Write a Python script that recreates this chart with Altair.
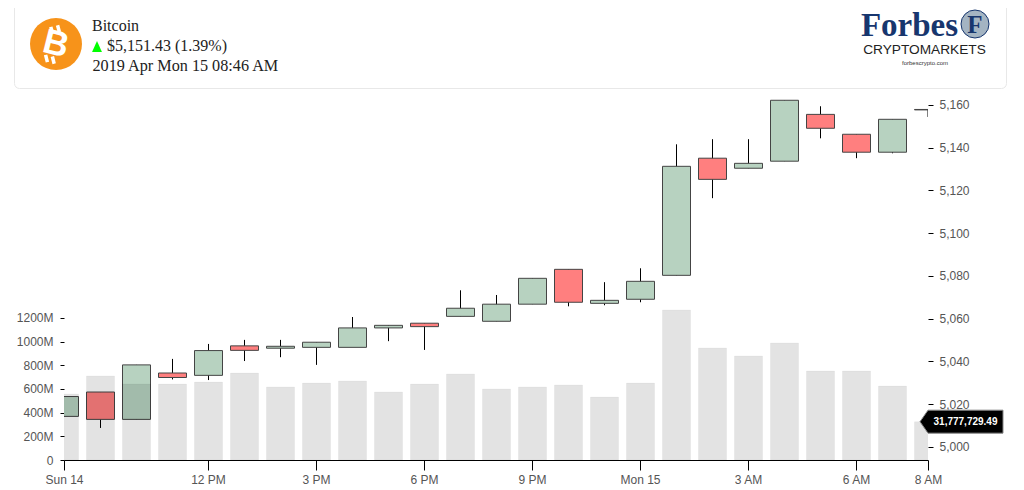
import altair as alt
import pandas as pd

hours = list(range(25))
open_ = [5014.3, 5025.7, 5012.9, 5034.6, 5033.5, 5047.3, 5046.2, 5046.6, 5046.6, 5055.7, 5057.9, 5061.1, 5058.8, 5066.8, 5083.1, 5067.2, 5069.1, 5080.3, 5135.1, 5130.4, 5133.7, 5155.6, 5146.3, 5137.9, 5157.9]
close = [5023.6, 5012.9, 5038.4, 5032.5, 5045.1, 5045.2, 5047.1, 5049.0, 5055.7, 5056.9, 5056.3, 5064.9, 5066.8, 5078.9, 5067.7, 5068.6, 5077.5, 5131.3, 5125.2, 5132.7, 5162.2, 5149.1, 5137.9, 5153.3, 5157.7]
high = [5023.6, 5025.7, 5038.4, 5041.2, 5048.2, 5050.1, 5050.1, 5049.0, 5060.8, 5056.9, 5057.9, 5073.3, 5071.1, 5078.9, 5083.1, 5077.1, 5083.6, 5141.6, 5144.0, 5144.0, 5162.2, 5159.4, 5146.3, 5153.3, 5157.9]
low = [5014.3, 5008.9, 5012.9, 5031.6, 5031.3, 5040.2, 5042.0, 5038.4, 5047.3, 5049.5, 5045.4, 5061.1, 5058.8, 5066.8, 5065.8, 5066.3, 5067.7, 5080.3, 5116.4, 5130.4, 5133.7, 5144.4, 5135.1, 5137.4, 5154.4]
volume = [558, 710, 642, 642, 659, 735, 617, 650, 668, 575, 642, 727, 600, 617, 634, 532, 650, 1268, 947, 879, 989, 752, 752, 625, 324]

x_ticks = [0, 4, 7, 10, 13, 16, 19, 22, 24]
x_labels = ["Sun 14", "12 PM", "3 PM", "6 PM", "9 PM", "Mon 15", "3 AM", "6 AM", "8 AM"]
vol_ticks = [0, 200, 400, 600, 800, 1000, 1200]
price_ticks = [5000, 5020, 5040, 5060, 5080, 5100, 5120, 5140, 5160]
tag_label = "31,777,729.49"

df = pd.DataFrame({"h": hours, "o": open_, "c": close, "hi": high, "lo": low, "v": volume})
df["up"] = df["c"] >= df["o"]

X0, Y0 = 64, 96  # page position of the plot area
def px(v): return alt.value(v - X0)
def py(v): return alt.value(v - Y0)

price_scale = alt.Scale(domain=[4993.9, 5164.2], nice=False, zero=False)
vol_scale = alt.Scale(domain=[0, 3076], nice=False)
x_scale = alt.Scale(domain=[0, 24], nice=False, zero=False, padding=0)

label_map = "{" + ",".join(f"'{t}':'{l}'" for t, l in zip(x_ticks, x_labels)) + "}"
FONT = "Liberation Sans"
SERIF = "Liberation Serif"

x_enc = alt.X("h:Q", scale=x_scale, title=None, axis=alt.Axis(
    values=x_ticks, labelExpr=f"{label_map}[datum.value]", grid=False,
    domainColor="#000", tickColor="#000", tickSize=10, labelColor="#555",
    labelFont=FONT, labelFontSize=12, labelPadding=4, labelFlush=False,
    labelOverlap=False))

price_axis = alt.Axis(orient="right", values=price_ticks, format=",.0f", grid=False, domain=False,
                      tickColor="#000", tickSize=5, labelColor="#555", labelFont=FONT,
                      labelFontSize=12, labelPadding=6, title=None)
vol_axis = alt.Axis(orient="left", values=vol_ticks,
                    labelExpr="datum.value == 0 ? '0' : datum.value + 'M'", grid=False, domain=False,
                    tickColor="#000", tickSize=4, labelColor="#555", labelFont=FONT,
                    labelFontSize=12, labelPadding=7, title=None)

base = alt.Chart(df)
wicks = alt.Chart(df.iloc[:-1]).mark_rule(color="#000", strokeWidth=1, clip=True, xOffset=0.5).encode(
    x=x_enc,
    y=alt.Y("hi:Q", scale=price_scale, axis=price_axis),
    y2="lo:Q")
last_wick = alt.Chart(df.tail(1)).mark_rule(color="#000", strokeWidth=1, clip=True).encode(
    x=x_enc,
    y=alt.Y("hi:Q", scale=price_scale, axis=None),
    y2="lo:Q")
boxes = base.mark_bar(size=28, stroke="#444", strokeWidth=1, clip=True, xOffset=0.5).encode(
    x=x_enc,
    y=alt.Y("o:Q", scale=price_scale, axis=None),
    y2="c:Q",
    fill=alt.condition("datum.up", alt.value("#b7d2c0"), alt.value("#ff7f7f")))
vols = base.mark_bar(size=28, fill="#000", fillOpacity=0.11, stroke="#000", strokeOpacity=0.03, clip=True, xOffset=0.5).encode(
    x=x_enc,
    y=alt.Y("v:Q", scale=vol_scale, axis=vol_axis),
    y2=alt.datum(0))

last = df.tail(1)
tag = alt.Chart(last).mark_point(
    shape="M-1,0L-0.807,-0.277L1,-0.277L1,0.277L-0.807,0.277Z",
    filled=True, fill="#000", stroke="#888", strokeWidth=1, opacity=1, size=6889, clip=False).encode(
    x=px(961.5), y=alt.Y("v:Q", scale=vol_scale, axis=None))
tag_text = alt.Chart(last.assign(t=tag_label)).mark_text(
    color="#fff", fontWeight="bold", font=FONT, fontSize=10, align="center", baseline="middle").encode(
    x=px(965.5), y=alt.Y("v:Q", scale=vol_scale, axis=None), text="t:N")

one = pd.DataFrame({"a": [1]})
def text(s, x, y, **kw):
    kw.setdefault("align", "left")
    kw.setdefault("baseline", "middle")
    return alt.Chart(one).mark_text(text=s, **kw).encode(x=px(x), y=py(y))
def sym(x, y, **kw):
    return alt.Chart(one).mark_point(filled=True, opacity=1, **kw).encode(x=px(x), y=py(y))

card = alt.Chart(one).mark_rect(fill="#fff", stroke="#e8e8e8", strokeWidth=1, cornerRadius=5).encode(
    x=px(14.5), x2=px(1006.5), y=py(-20), y2=py(88.5))
coin_bars = alt.Chart(one).mark_point(
    shape="M-0.2,-0.66L-0.13,-0.4M0.06,-0.72L0.13,-0.46M-0.4,0.42L-0.33,0.7M-0.14,0.48L-0.07,0.76",
    size=2704, filled=False, stroke="#fff", strokeWidth=3.5, opacity=1).encode(x=px(56), y=py(44))

header = [
    card,
    sym(56, 44, shape="circle", size=2704, fill="#f7931a"),
    text("B", 56, 44, align="center", font=FONT, fontWeight="bold", fontSize=35, color="#fff", angle=14),
    coin_bars,
    text("Bitcoin", 92, 26, font=SERIF, fontSize=16, color="#222"),
    sym(97, 46.5, shape="M0,-1L-0.9,1L0.9,1Z", size=121, fill="#00ff00"),
    text("$5,151.43 (1.39%)", 107, 46, font=SERIF, fontSize=16, color="#222"),
    text("2019 Apr Mon 15 08:46 AM", 92.5, 66, font=SERIF, fontSize=16.2, color="#222"),
    text("Forbes", 909.5, 26, align="center", font=SERIF, fontWeight="bold", fontSize=33, color="#17366e"),
    sym(975, 24, shape="circle", size=784, fill="#a4b4c2", stroke="#17366e", strokeWidth=1),
    text("F", 975, 25, align="center", font=SERIF, fontWeight="bold", fontSize=25, color="#17366e"),
    text("CRYPTOMARKETS", 924.5, 50, align="center", font=FONT, fontSize=13.7, color="#222"),
    text("forbescrypto.com", 925, 63, align="center", font=FONT, fontSize=6, color="#333"),
]

chart = alt.layer(*header, wicks, last_wick, boxes, vols, tag, tag_text).resolve_scale(y="independent").properties(
    width=864, height=364,
    padding={"left": 56, "top": 88, "right": 88, "bottom": 28},
    autosize=alt.AutoSizeParams(type="none", contains="content"),
    background="#fff",
).configure_view(stroke=None)

chart.save("out.html", embed_options={"renderer": "svg", "actions": False})
